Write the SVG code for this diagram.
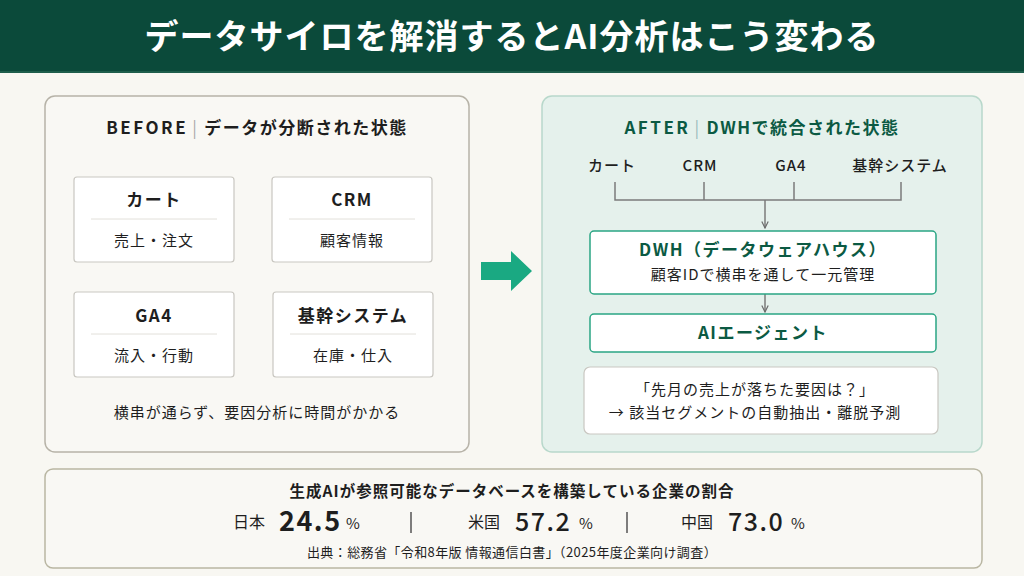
<svg xmlns="http://www.w3.org/2000/svg" width="1024" height="576" viewBox="0 0 1024 576">
<defs>
<style>
text{font-family:"Noto Sans CJK JP","Noto Sans",sans-serif;fill:#1e1e1e}
.h{font-size:34px;font-weight:700;fill:#fff;text-anchor:middle;letter-spacing:1px}
.pt{font-size:17px;font-weight:700;text-anchor:middle;letter-spacing:1.5px}
.bt{font-size:17px;font-weight:700;text-anchor:middle;letter-spacing:1.5px}
.bs{font-size:15px;text-anchor:middle;letter-spacing:1px}
.c{text-anchor:middle}
.g{fill:#0b5a43}
.box{fill:#fff;stroke:#c9c7c1;stroke-width:1.2}
.gbox{fill:#fff;stroke:#2aa584;stroke-width:1.5}
.conn{fill:none;stroke:#7b7b7b;stroke-width:1.5}
</style>
<marker id="ah" viewBox="0 0 10 10" refX="9" refY="5" markerWidth="8" markerHeight="8" orient="auto" markerUnits="userSpaceOnUse">
<path d="M1,1 L9,5 L1,9" fill="none" stroke="#6b6b6b" stroke-width="1.5"/>
</marker>
</defs>
<rect width="1024" height="576" fill="#f8f7f2"/>
<g id="header">
<rect width="1024" height="72" fill="#0b4a3a"/>
<rect y="71" width="1024" height="2" fill="#1e5e4c"/>
<text class="h" x="512" y="49">データサイロを解消するとAI分析はこう変わる</text>
</g>
<g id="before">
<rect x="45" y="96" width="424" height="356" rx="10" fill="#f9f8f4" stroke="#b7b3a8" stroke-width="1.5"/>
<text class="pt" x="257" y="134"><tspan letter-spacing="2.5">BEFORE</tspan><tspan fill="#aaa" dx="4" font-weight="400">|</tspan><tspan dx="6">データが分断された状態</tspan></text>
<text class="bs" x="257" y="418" letter-spacing="2">横串が通らず、要因分析に時間がかかる</text>
</g>
<g id="cart">
<rect class="box" x="74" y="177" width="160" height="85" rx="3"/>
<text class="bt" x="154" y="206">カート</text>
<line x1="91" y1="219" x2="217" y2="219" stroke="#e2e0da"/>
<text class="bs" x="154" y="246">売上・注文</text>
</g>
<g id="crm">
<rect class="box" x="272" y="177" width="160" height="85" rx="3"/>
<text class="bt" x="352" y="206" letter-spacing="2">CRM</text>
<line x1="289" y1="219" x2="415" y2="219" stroke="#e2e0da"/>
<text class="bs" x="352" y="246">顧客情報</text>
</g>
<g id="ga4">
<rect class="box" x="74" y="292" width="160" height="85" rx="3"/>
<text class="bt" x="154" y="322">GA4</text>
<line x1="91" y1="334" x2="217" y2="334" stroke="#e2e0da"/>
<text class="bs" x="154" y="361">流入・行動</text>
</g>
<g id="kikan">
<rect class="box" x="273" y="292" width="160" height="85" rx="3"/>
<text class="bt" x="353" y="322">基幹システム</text>
<line x1="290" y1="334" x2="416" y2="334" stroke="#e2e0da"/>
<text class="bs" x="353" y="361">在庫・仕入</text>
</g>
<g id="bigarrow">
<path d="M481,262 L511,262 L511,251 L532,271 L511,291 L511,280 L481,280 Z" fill="#1aa982"/>
</g>
<g id="after">
<rect x="542" y="96" width="440" height="356" rx="10" fill="#e5f1ec" stroke="#b8d8cb" stroke-width="1.5"/>
<text class="pt g" x="762" y="134"><tspan letter-spacing="2.5">AFTER</tspan><tspan fill="#9bb" dx="4" font-weight="400">|</tspan><tspan dx="6">DWHで統合された状態</tspan></text>
<text class="bs" x="612" y="171" font-weight="500">カート</text>
<text class="bs" x="700" y="171" font-weight="500" letter-spacing="2.5">CRM</text>
<text class="bs" x="791" y="171" font-weight="500" letter-spacing="2.5">GA4</text>
<text class="bs" x="900" y="171" font-weight="500">基幹システム</text>
</g>
<g id="connectors">
<path class="conn" d="M615,182 V200 H901 V182 M704,182 V200 M794,182 V200"/>
<line class="conn" x1="765" y1="200" x2="765" y2="228" marker-end="url(#ah)"/>
<line class="conn" x1="765" y1="294" x2="765" y2="312" marker-end="url(#ah)"/>
</g>
<g id="dwh">
<rect class="gbox" x="590" y="231" width="346" height="63" rx="4"/>
<text class="bt g" x="763" y="256" font-size="16">DWH（データウェアハウス）</text>
<text class="bs" x="763" y="280">顧客IDで横串を通して一元管理</text>
</g>
<g id="ai">
<rect class="gbox" x="590" y="314" width="346" height="38" rx="4"/>
<text class="bt g" x="763" y="339">AIエージェント</text>
</g>
<g id="query">
<rect class="box" x="584" y="367" width="354" height="67" rx="6" stroke="#d6d4ce"/>
<text class="bs" x="755" y="395">「先月の売上が落ちた要因は？」</text>
<text class="bs" x="755" y="418">→ 該当セグメントの自動抽出・離脱予測</text>
</g>
<g id="stats">
<rect x="45" y="469" width="937" height="99" rx="8" fill="#f9f8f4" stroke="#b9b6a2" stroke-width="1.5"/>
<text class="c" x="512" y="497" font-size="15.5" font-weight="700" letter-spacing="1">生成AIが参照可能なデータベースを構築している企業の割合</text>
<text x="233" y="528" font-size="16">日本</text>
<text x="279" y="531" font-size="27" font-weight="700" fill="#0b5a43" letter-spacing="1.5">24.5</text>
<text x="346" y="529" font-size="15">%</text>
<line x1="411" y1="512" x2="411" y2="533" stroke="#555" stroke-width="1.5"/>
<text x="468" y="528" font-size="16">米国</text>
<text x="515" y="531" font-size="25" font-weight="500" letter-spacing="1.5">57.2</text>
<text x="579" y="529" font-size="15">%</text>
<line x1="627" y1="512" x2="627" y2="533" stroke="#555" stroke-width="1.5"/>
<text x="681" y="528" font-size="16">中国</text>
<text x="728" y="531" font-size="25" font-weight="500" letter-spacing="1.5">73.0</text>
<text x="791" y="529" font-size="15">%</text>
<text class="c" x="512" y="557" font-size="13" letter-spacing="0.4">出典：総務省「令和8年版 情報通信白書」（2025年度企業向け調査）</text>
</g>
</svg>
